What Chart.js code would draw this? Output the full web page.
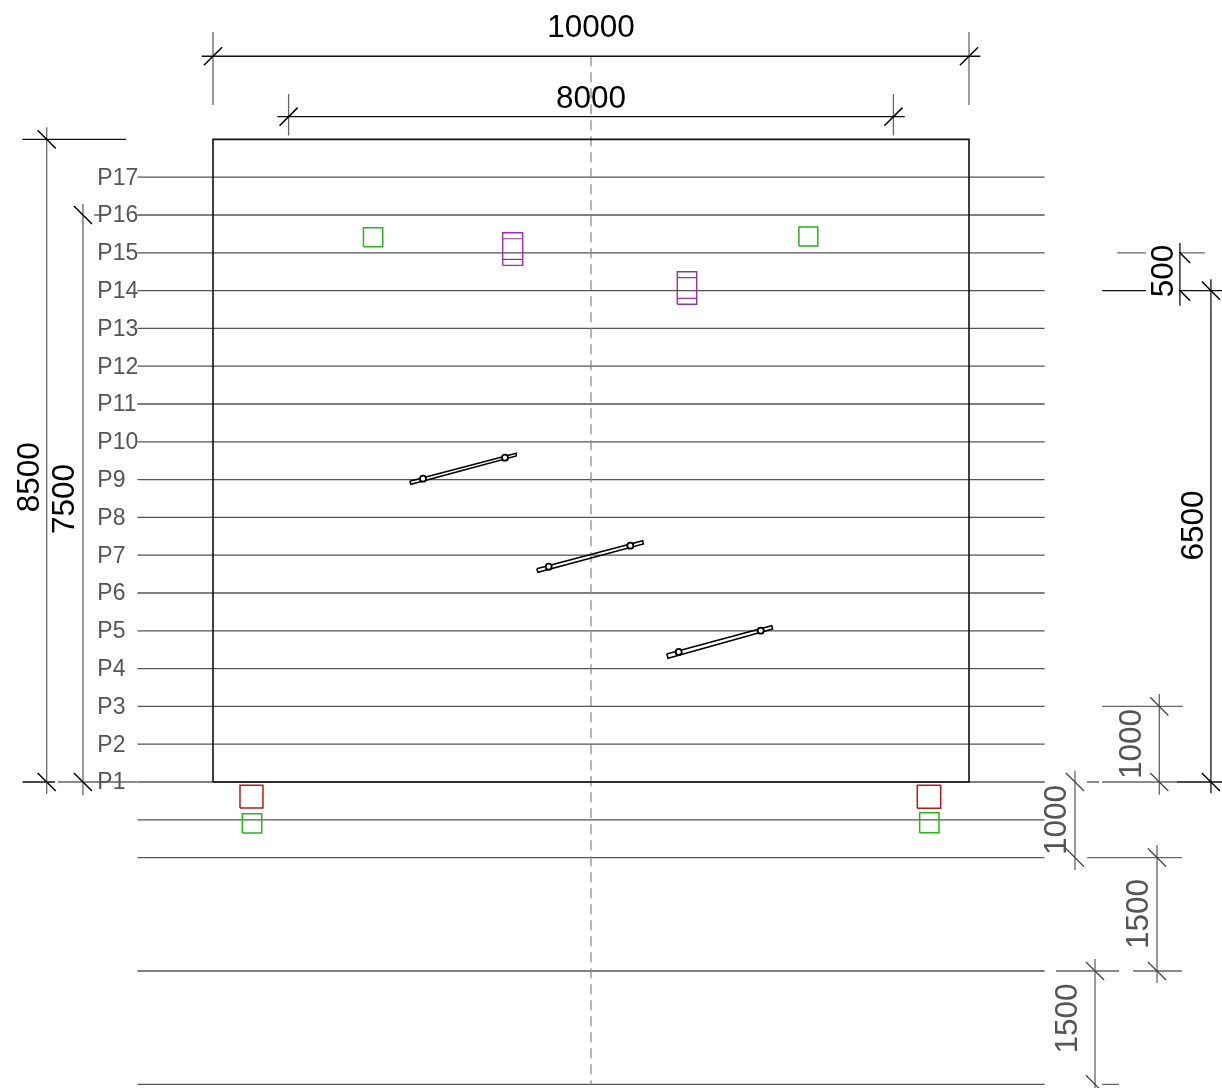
<!DOCTYPE html>
<html>
<head>
<meta charset="utf-8">
<title>Elevation</title>
<script src="https://cdn.jsdelivr.net/npm/chart.js@4"></script>
<style>
  html, body { margin: 0; padding: 0; background: #fff; }
  #wrap { width: 1222px; height: 1088px; }
</style>
</head>
<body>
<div id="wrap"><canvas id="mycanvas" width="1222" height="1088"></canvas></div>
<script>
// everything below is in drawing units (mm)
var levelNames = ["P1","P2","P3","P4","P5","P6","P7","P8","P9","P10","P11","P12","P13","P14","P15","P16","P17"];
var levelHeights = [0,500,1000,1500,2000,2500,3000,3500,4000,4500,5000,5500,6000,6500,7000,7500,8000];
var lowerLevels = [-500,-1000,-2500,-4000];
var levelSpan = [-1000,11000];
var axisLine = [[5000,9600],[5000,-4000]];
var outline = [[0,0],[10000,0],[10000,8500],[0,8500],[0,0]];

// [x1,y1,x2,y2]
var dimBlack = [[-150,9600,10150,9600],[850,8800,9150,8800],[-2520,8500,-1150,8500],[-2520,0,-2090,0],
  [12750,0,13350,0],[11760,6500,12340,6500],[12790,6500,13350,6500],[13200,6650,13200,-150],[12790,7130,12790,6300]];
var dimGrey = [[0,9920,0,8955],[10000,9920,10000,8955],[1000,9100,1000,8550],[9000,9100,9000,8550],
  [-2050,0,-1000,0],[-1574,7500,-1406,7500],[-2200,8660,-2200,-160],[-1720,7650,-1720,-175],
  [11560,0,11720,0],[11760,0,12750,0],[11560,-1000,12815,-1000],[11150,-2500,11985,-2500],[12170,-2500,12815,-2500],
  [11760,-4000,11985,-4000],[11760,1000,12830,1000],[11960,7000,12340,7000],[12790,7000,13120,7000],
  [12517,1165,12517,-170],[11402,150,11402,-1165],[12487,-833,12487,-2660],[11667,-2340,11667,-4050]];
var ticksBlack = [[-120,9480,120,9720],[9880,9480,10120,9720],[880,8680,1120,8920],[8880,8680,9120,8920],
  [-2320,8620,-2080,8380],[-2320,120,-2080,-120],[-1840,7620,-1600,7380],[-1840,120,-1600,-120],
  [13080,6620,13320,6380],[13080,120,13320,-120],[12780,7010,12925,6865],[12780,6510,12925,6365]];
var ticksGrey = [[12397,1120,12637,880],[12397,120,12637,-120],[11282,120,11522,-120],[11282,-880,11522,-1120],
  [12367,-880,12607,-1120],[12367,-2380,12607,-2620],[11547,-2380,11787,-2620],[11547,-3880,11787,-4120]];

// [x1,y1,x2,y2]
var greenBoxes = [[1990,7080,2245,7330],[7750,7090,8000,7340],[388,-675,644,-419],[9347,-671,9603,-406]];
var redBoxes = [[357,-344,661,-44],[9316,-348,9625,-44]];
var purpleBoxes = [[3832,6834,4097,7266],[6141,6319,6398,6750]];
var purpleBands = [[3832,7186,4097,7186],[3832,6914,4097,6914],[6141,6671,6398,6671],[6141,6398,6398,6398]];

var braces = [
  [[2602,3977],[4012,4348],[4012,4312],[2619,3938],[2602,3977]],
  [[4282,2821],[5684,3192],[5692,3148],[4299,2774],[4282,2821]],
  [[6001,1693],[7390,2067],[7403,2024],[6019,1636],[6001,1693]]
];
var braceBolts = [[2778,4012],[3862,4290],[4440,2848],[5520,3126],[6160,1720],[7245,2001]];

// [text,x,y]
var dimTextBlack = [["10000",5000,9974],["8000",5000,9035]];
var dimTextBlackUp = [["8500",-2420,4030],["7500",-1950,3743],["6500",12983,3393],["500",12580,6759]];
var dimTextGreyUp = [["1000",12156,503],["1000",11170,-503],["1500",12256,-1746],["1500",11310,-3128]];
var labelLeft = -1530;
var labelDrop = -13;

function segs(list) {
  var out = [];
  for (var i = 0; i < list.length; i++) {
    out.push({x:list[i][0], y:list[i][1]});
    out.push({x:list[i][2], y:list[i][3]});
    out.push({x:null, y:null});
  }
  return out;
}
function boxes(list) {
  var out = [];
  for (var i = 0; i < list.length; i++) {
    var b = list[i];
    out.push({x:b[0],y:b[1]},{x:b[2],y:b[1]},{x:b[2],y:b[3]},{x:b[0],y:b[3]},{x:b[0],y:b[1]},{x:null,y:null});
  }
  return out;
}
function path(list) {
  var out = [];
  for (var i = 0; i < list.length; i++) out.push({x:list[i][0], y:list[i][1]});
  return out;
}
function lineSet(data, color, width, dash) {
  return {
    data: data,
    showLine: true,
    fill: false,
    borderColor: color,
    borderWidth: width,
    borderDash: dash || [],
    pointRadius: 0,
    pointHoverRadius: 0,
    tension: 0,
    spanGaps: false
  };
}

var allLevels = levelHeights.concat(lowerLevels);
var levelSegs = [];
for (var i = 0; i < allLevels.length; i++) {
  levelSegs.push([levelSpan[0], allLevels[i], levelSpan[1], allLevels[i]]);
}
var braceData = [];
for (var j = 0; j < braces.length; j++) {
  braceData = braceData.concat(path(braces[j]));
  braceData.push({x:null, y:null});
}

var textPlugin = {
  id: "drawingText",
  afterDatasetsDraw: function(chart) {
    var c = chart.ctx, sx = chart.scales.x, sy = chart.scales.y;
    c.save();
    c.textBaseline = "middle";
    c.textAlign = "left";
    c.fillStyle = "#555555";
    c.font = "23px 'Liberation Sans'";
    for (var i = 0; i < levelNames.length; i++) {
      c.fillText(levelNames[i], sx.getPixelForValue(labelLeft), sy.getPixelForValue(levelHeights[i] + labelDrop));
    }
    c.textAlign = "center";
    c.font = "31.5px 'Liberation Sans'";
    c.fillStyle = "#000000";
    dimTextBlack.forEach(function(t) {
      c.fillText(t[0], sx.getPixelForValue(t[1]), sy.getPixelForValue(t[2]));
    });
    function up(t) {
      c.save();
      c.translate(sx.getPixelForValue(t[1]), sy.getPixelForValue(t[2]));
      c.rotate(-Math.PI / 2);
      c.fillText(t[0], 0, 0);
      c.restore();
    }
    dimTextBlackUp.forEach(up);
    c.fillStyle = "#555555";
    dimTextGreyUp.forEach(up);
    c.restore();
  }
};

var LineGraph = new Chart(document.getElementById("mycanvas"), {
  type: "scatter",
  data: {
    datasets: [
      {
        data: path(braceBolts),
        showLine: false,
        pointRadius: 3,
        pointHoverRadius: 3,
        pointBackgroundColor: "#ffffff",
        pointBorderColor: "#000000",
        pointBorderWidth: 1.8
      },
      lineSet(braceData, "#000000", 1.5),
      lineSet(boxes(greenBoxes), "#22b816", 1.5),
      lineSet(boxes(redBoxes), "#c01616", 1.5),
      lineSet(boxes(purpleBoxes), "#9b30a8", 1.4),
      lineSet(segs(purpleBands), "#9b30a8", 1.2),
      lineSet(path(outline), "#111111", 1.6),
      lineSet(segs(ticksBlack), "#000000", 1.5),
      lineSet(segs(ticksGrey), "#444444", 1.3),
      lineSet(segs(dimBlack), "#111111", 1.3),
      lineSet(segs(dimGrey), "#666666", 1.3),
      lineSet(path(axisLine), "#8c8c8c", 1.3, [10, 6]),
      lineSet(segs(levelSegs), "#555555", 1.3)
    ]
  },
  options: {
    responsive: false,
    animation: false,
    devicePixelRatio: 1,
    layout: { padding: 0, autoPadding: false },
    events: [],
    plugins: { legend: { display: false }, tooltip: { enabled: false }, title: { display: false } },
    scales: {
      x: { type: "linear", display: false, min: -2817.5, max: 13346.5, grid: { display: false } },
      y: { type: "linear", display: false, min: -4047.6, max: 10343.9, grid: { display: false } }
    }
  },
  plugins: [textPlugin]
});
</script>
</body>
</html>
